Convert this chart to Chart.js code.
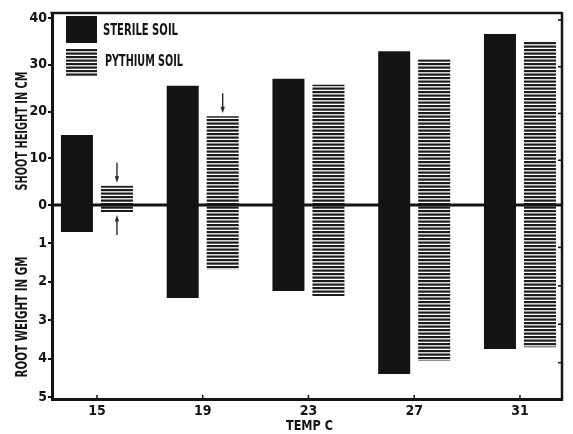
<!DOCTYPE html>
<html><head><meta charset="utf-8">
<script src="https://cdn.jsdelivr.net/npm/chart.js@4.4.0/dist/chart.umd.min.js"></script>
<style>html,body{margin:0;padding:0;background:#fff;}canvas{display:block;}</style>
</head><body>
<canvas id="c" width="573" height="434"></canvas>
<script>
// ---- data ----
const temps = [15, 19, 23, 27, 31];
const shootSterile = [15.0, 25.5, 27.0, 32.9, 36.6];
const shootPythium = [4.1, 19.0, 25.7, 31.2, 34.9];
const rootSterile = [0.70, 2.42, 2.24, 4.40, 3.75];
const rootPythium = [0.18, 1.67, 2.37, 4.06, 3.70];
const shootTicks = [0, 10, 20, 30, 40];
const rootTicks = [1, 2, 3, 4, 5];
const seriesLabels = ['STERILE SOIL', 'PYTHIUM SOIL'];
const shootTitle = 'SHOOT HEIGHT IN CM';
const rootTitle = 'ROOT WEIGHT IN GM';
const xTitle = 'TEMP C';
const arrowMarks = [
  {series: 'shootPythium', index: 0, dir: 'down'},
  {series: 'rootPythium', index: 0, dir: 'up'},
  {series: 'shootPythium', index: 1, dir: 'down'}
];

const FONT = "'Liberation Sans Narrow','DejaVu Sans Condensed','Roboto Condensed',sans-serif";
const INK = '#141414';

function makeHatch() {
  const t = document.createElement('canvas');
  t.width = 8; t.height = 7;
  const g = t.getContext('2d');
  g.fillStyle = '#ffffff'; g.fillRect(0, 0, 8, 7);
  g.fillStyle = '#1c1c1c';
  g.fillRect(0, 0, 8, 2.2);
  g.fillRect(0, 3.5, 8, 2.2);
  return document.getElementById('c').getContext('2d').createPattern(t, 'repeat');
}
const hatch = makeHatch();

function pts(vals) { return temps.map((t, i) => ({x: t, y: vals[i]})); }

function fitText(ctx, text, x, y, width, size, align) {
  ctx.save();
  ctx.font = 'bold ' + size + 'px ' + FONT;
  const w = ctx.measureText(text).width;
  const s = width / w;
  ctx.translate(x, y);
  ctx.scale(s, 1);
  ctx.textBaseline = 'middle';
  ctx.textAlign = align || 'left';
  ctx.fillStyle = INK;
  ctx.fillText(text, 0, 0);
  ctx.restore();
}

function arrow(ctx, x, yTip, dir) {
  const len = 20, sgn = dir === 'down' ? -1 : 1;
  ctx.save();
  ctx.strokeStyle = '#2a2a2a'; ctx.fillStyle = '#2a2a2a'; ctx.lineWidth = 1.4;
  const yTail = yTip + sgn * len;
  ctx.beginPath(); ctx.moveTo(x, yTail); ctx.lineTo(x, yTip + sgn * 5); ctx.stroke();
  ctx.beginPath(); ctx.moveTo(x, yTip); ctx.lineTo(x - 2.2, yTip + sgn * 6.5); ctx.lineTo(x + 2.2, yTip + sgn * 6.5); ctx.closePath(); ctx.fill();
  ctx.restore();
}

const decor = {
  id: 'decor',
  beforeDraw(chart) {
    const ctx = chart.ctx;
    ctx.save(); ctx.fillStyle = '#fff'; ctx.fillRect(0, 0, chart.width, chart.height); ctx.restore();
  },
  afterDatasetsDraw(chart) {
    const ctx = chart.ctx, a = chart.chartArea;
    const ys = chart.scales.yShoot;
    const y0 = ys.getPixelForValue(0);
    ctx.save();
    ctx.strokeStyle = INK; ctx.lineWidth = 3;
    ctx.beginPath(); ctx.moveTo(a.left, y0); ctx.lineTo(a.right, y0); ctx.stroke();
    ctx.restore();
    arrowMarks.forEach(m => {
      const di = chart.data.datasets.findIndex(d => d.key === m.series);
      const el = chart.getDatasetMeta(di).data[m.index];
      const p = el.getProps(['x', 'y', 'base'], true);
      if (m.dir === 'down') arrow(ctx, p.x, Math.min(p.y, p.base) - 3, 'down');
      else arrow(ctx, p.x, Math.max(p.y, p.base) + 3, 'up');
    });
  },
  afterDraw(chart) {
    const ctx = chart.ctx, a = chart.chartArea;
    const ys = chart.scales.yShoot, yr = chart.scales.yRoot, xs = chart.scales.x;
    ctx.save();
    ctx.strokeStyle = INK;
    ctx.lineWidth = 2.5;
    ctx.beginPath(); ctx.moveTo(a.left - 1.5, a.top); ctx.lineTo(a.right, a.top); ctx.stroke();
    ctx.beginPath(); ctx.moveTo(a.right, a.top - 1); ctx.lineTo(a.right, a.bottom + 1.5); ctx.stroke();
    ctx.lineWidth = 1.5;
    shootTicks.filter(v => v !== 0).forEach(v => {
      const y = ys.getPixelForValue(v) + 2;
      ctx.beginPath(); ctx.moveTo(a.right, y); ctx.lineTo(a.right - 4, y); ctx.stroke();
    });
    rootTicks.filter(v => v !== 5).forEach(v => {
      const y = yr.getPixelForValue(v) + 4;
      ctx.beginPath(); ctx.moveTo(a.right, y); ctx.lineTo(a.right - 4, y); ctx.stroke();
    });
    temps.forEach(t => {
      const x = xs.getPixelForValue(t);
      ctx.beginPath(); ctx.moveTo(x, a.bottom); ctx.lineTo(x, a.bottom - 4); ctx.stroke();
    });
    ctx.restore();
    const lx = a.left + 14;
    ctx.save();
    ctx.fillStyle = INK;
    ctx.fillRect(lx, a.top + 3, 31, 27);
    ctx.fillStyle = hatch;
    ctx.fillRect(lx, a.top + 36, 31, 27);
    ctx.restore();
    fitText(ctx, seriesLabels[0], lx + 37, a.top + 18, 75, 16, 'left');
    fitText(ctx, seriesLabels[1], lx + 39, a.top + 49, 78, 16, 'left');
    ctx.save(); ctx.translate(23, 131); ctx.rotate(-Math.PI / 2);
    fitText(ctx, shootTitle, 0, 0, 119, 15, 'center'); ctx.restore();
    ctx.save(); ctx.translate(23, 317); ctx.rotate(-Math.PI / 2);
    fitText(ctx, rootTitle, 0, 0, 121, 15, 'center'); ctx.restore();
    fitText(ctx, xTitle, xs.getPixelForValue(23) + 1, 426, 47, 14, 'center');
  }
};

const tickFont = {family: FONT, size: 14, weight: 'bold'};

new Chart(document.getElementById('c'), {
  type: 'bar',
  data: {
    datasets: [
      {key: 'shootSterile', label: seriesLabels[0], data: pts(shootSterile), yAxisID: 'yShoot', stack: 'sterile', backgroundColor: INK},
      {key: 'shootPythium', label: seriesLabels[1], data: pts(shootPythium), yAxisID: 'yShoot', stack: 'pythium', backgroundColor: hatch},
      {key: 'rootSterile', label: seriesLabels[0], data: pts(rootSterile), yAxisID: 'yRoot', stack: 'sterile', backgroundColor: INK},
      {key: 'rootPythium', label: seriesLabels[1], data: pts(rootPythium), yAxisID: 'yRoot', stack: 'pythium', backgroundColor: hatch}
    ]
  },
  options: {
    responsive: false,
    animation: false,
    events: [],
    categoryPercentage: 0.7565,
    barPercentage: 0.8,
    layout: {padding: {left: 7, top: 13, right: 11, bottom: 0}},
    plugins: {legend: {display: false}, tooltip: {enabled: false}},
    scales: {
      x: {
        type: 'linear', min: 13.3, max: 32.59, offset: false,
        afterBuildTicks: s => { s.ticks = temps.map(v => ({value: v})); },
        afterFit: s => { s.height = 35; },
        grid: {display: false, drawTicks: false, offset: false},
        border: {display: true, width: 3, color: INK},
        ticks: {padding: 4, font: tickFont, color: INK, autoSkip: false, maxRotation: 0, callback: v => String(v)}
      },
      yRoot: {
        type: 'linear', position: 'left', stack: 'y', stackWeight: 194, stacked: false,
        reverse: true, min: 0, max: 5.05,
        afterBuildTicks: s => { s.ticks = rootTicks.map(v => ({value: v})); },
        afterFit: s => { s.width = 45; },
        grid: {drawOnChartArea: false, tickLength: 4, color: INK, lineWidth: 2},
        border: {width: 3, color: INK},
        ticks: {padding: 1, font: tickFont, color: INK, autoSkip: false, callback: v => String(v)}
      },
      yShoot: {
        type: 'linear', position: 'left', stack: 'y', stackWeight: 192, stacked: false,
        min: 0, max: 41.07,
        afterBuildTicks: s => { s.ticks = shootTicks.map(v => ({value: v})); },
        afterFit: s => { s.width = 45; },
        grid: {drawOnChartArea: false, tickLength: 4, color: INK, lineWidth: 2},
        border: {width: 3, color: INK},
        ticks: {padding: 1, font: tickFont, color: INK, autoSkip: false, callback: v => String(v)}
      }
    }
  },
  plugins: [decor]
});
</script>
</body></html>
